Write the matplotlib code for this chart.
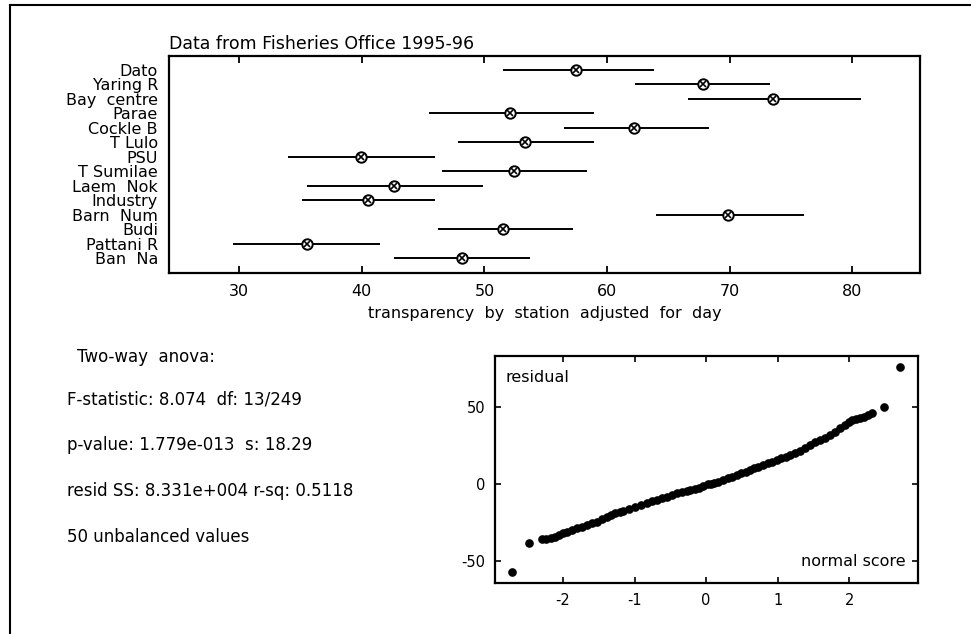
import matplotlib
matplotlib.use("Agg")
import matplotlib.pyplot as plt
from matplotlib.lines import Line2D

plt.rcParams['font.family'] = ['DejaVu Sans']
plt.rcParams['axes.unicode_minus'] = False

# station means (adjusted for day) with interval ends
stations = ["Dato", "Yaring R", "Bay  centre", "Parae", "Cockle B", "T Lulo", "PSU",
            "T Sumilae", "Laem  Nok", "Industry", "Barn  Num", "Budi", "Pattani R", "Ban  Na"]
means = [57.5, 67.8, 73.5, 52.1, 62.2, 53.3, 39.9, 52.4, 42.6, 40.5, 69.9, 51.5, 35.5, 48.2]
lows = [51.5, 62.3, 66.6, 45.5, 56.5, 47.8, 34.0, 46.5, 35.5, 35.1, 64.0, 46.2, 29.5, 42.6]
highs = [63.8, 73.3, 80.7, 58.9, 68.3, 58.9, 46.0, 58.4, 49.9, 46.0, 76.1, 57.2, 41.5, 53.7]

# residuals vs normal scores
normal_score = [-2.71, -2.47, -2.30, -2.24, -2.17, -2.11, -2.05, -2.00, -1.95, -1.88,
                -1.81, -1.74, -1.67, -1.60, -1.53, -1.46, -1.39, -1.33, -1.27, -1.21,
                -1.16, -1.08, -0.99, -0.91, -0.83, -0.76, -0.69, -0.62, -0.55, -0.48,
                -0.41, -0.34, -0.27, -0.22, -0.16, -0.10, -0.04, 0.02, 0.07, 0.11,
                0.17, 0.24, 0.30, 0.36, 0.43, 0.49, 0.55, 0.61, 0.67, 0.73,
                0.80, 0.86, 0.92, 0.99, 1.05, 1.11, 1.17, 1.24, 1.31, 1.38,
                1.45, 1.52, 1.59, 1.66, 1.73, 1.80, 1.87, 1.94, 1.99, 2.04,
                2.10, 2.15, 2.20, 2.26, 2.32, 2.49, 2.71]
residual = [-56.9, -38.5, -35.9, -36.0, -35.3, -34.2, -33.1, -32.0, -31.0, -29.9,
            -28.8, -27.7, -26.6, -25.6, -24.5, -22.8, -21.2, -20.0, -19.0, -18.1,
            -17.3, -16.0, -14.7, -13.4, -12.1, -11.2, -10.4, -9.3, -8.2, -7.1,
            -6.0, -5.2, -4.6, -3.9, -3.3, -2.5, -1.2, -0.3, 0.0, 0.5,
            1.6, 2.7, 3.7, 4.8, 5.9, 6.9, 8.0, 9.1, 10.2, 11.3,
            12.3, 13.4, 14.5, 15.6, 16.7, 17.8, 18.8, 19.9, 21.5, 23.2,
            25.3, 27.5, 28.6, 29.7, 31.9, 34.0, 36.2, 38.3, 40.0, 41.6,
            42.0, 42.8, 43.7, 44.8, 45.9, 50.2, 76.2]

anova_lines = ["F-statistic: 8.074  df: 13/249",
               "p-value: 1.779e-013  s: 18.29",
               "resid SS: 8.331e+004 r-sq: 0.5118",
               "50 unbalanced values"]

fig = plt.figure(figsize=(9.71, 6.34), dpi=100)

# page frame (top and left edges only are visible)
fig.add_artist(Line2D([10/971, 1.0], [1 - 5/634, 1 - 5/634], color='black', lw=1.5))
fig.add_artist(Line2D([10/971, 10/971], [0.0, 1 - 5/634], color='black', lw=1.5))

# --- top panel: interval plot ---
ax = fig.add_axes([169/971, 1 - 273/634, (920 - 169)/971, (273 - 56)/634])
pos = list(range(len(stations)))
ax.hlines(pos, lows, highs, color='black', lw=1.4)
ax.plot(means, pos, 'o', ms=7.5, mfc='white', mec='black', mew=1.4)
ax.plot(means, pos, 'x', ms=4.5, mec='black', mew=1.2)
ax.set_xlim(24.27, 85.52)
ax.set_ylim(14.04, -0.97)
ax.set_xticks([30, 40, 50, 60, 70, 80])
ax.set_yticks(pos)
ax.set_yticklabels(stations)
ax.set_yticks([4, 9], minor=True)
ax.tick_params(axis='y', which='major', length=0, pad=8, labelsize=11.5)
ax.tick_params(axis='y', which='minor', direction='in', length=5, width=1.3,
               left=True, right=True)
ax.tick_params(axis='x', which='major', direction='in', length=5, width=1.3,
               top=True, bottom=True, labelsize=11.5, pad=8)
for s in ax.spines.values():
    s.set_linewidth(1.6)
ax.set_title("Data from Fisheries Office 1995-96", loc='left', fontsize=12.5, pad=5)
ax.set_xlabel("transparency  by  station  adjusted  for  day", fontsize=11.5, labelpad=5)

# --- anova summary text ---
fig.text(77/971, 1 - 357/634, "Two-way  anova:", fontsize=12, va='center')
for i, line in enumerate(anova_lines):
    fig.text(67/971, 1 - (399 + 46 * i)/634, line, fontsize=12, va='center')

# --- bottom right: normal probability plot of residuals ---
ax2 = fig.add_axes([495/971, 1 - 583/634, (918 - 495)/971, (583 - 356)/634])
ax2.plot(normal_score, residual, 'o', ms=5.2, color='black')
ax2.set_xlim(-2.95, 2.96)
ax2.set_ylim(-64.3, 83.1)
ax2.set_xticks([-2, -1, 0, 1, 2])
ax2.set_yticks([-50, 0, 50])
ax2.tick_params(direction='in', length=4, width=1.2, top=True, right=True,
                labelsize=10.5, pad=7)
for s in ax2.spines.values():
    s.set_linewidth(1.6)
ax2.text(0.026, 0.905, "residual", transform=ax2.transAxes, fontsize=11.5, va='center')
ax2.text(0.97, 0.093, "normal score", transform=ax2.transAxes, fontsize=11.5,
         va='center', ha='right')

fig.savefig("out.png", dpi=100)
